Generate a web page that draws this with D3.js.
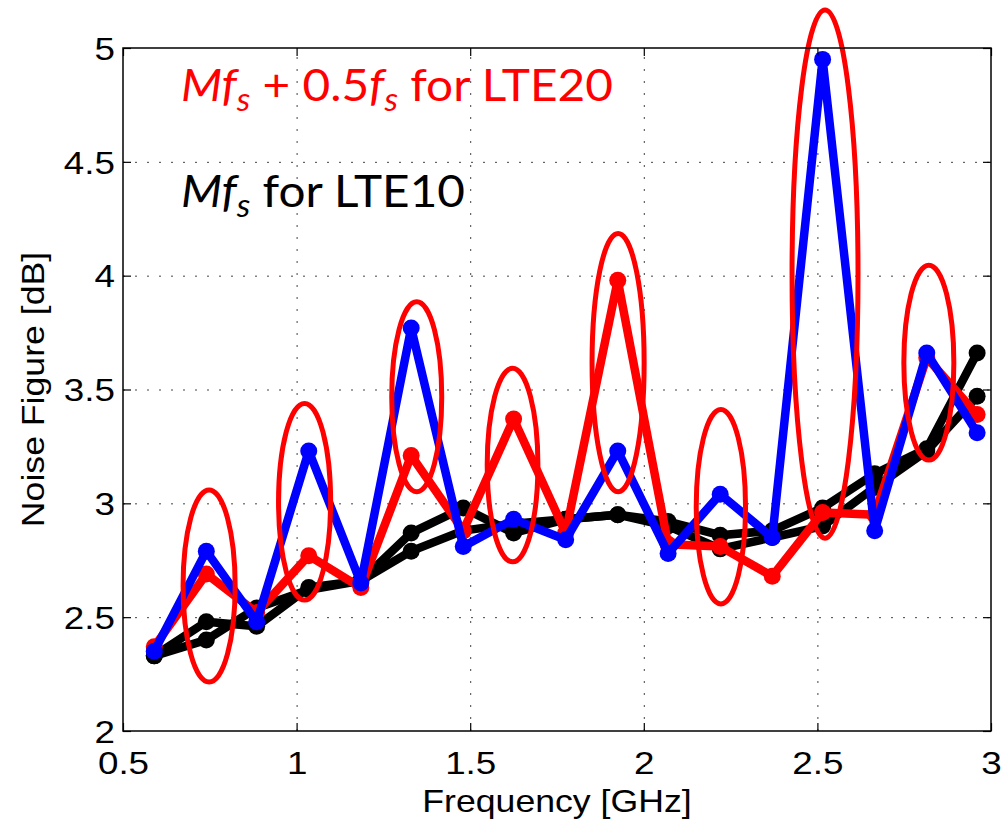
<!DOCTYPE html>
<html>
<head>
<meta charset="utf-8">
<script src="https://cdn.jsdelivr.net/npm/d3@7"></script>
<style>
  body { margin: 0; background: #fff; }
</style>
</head>
<body>
<div id="chart"></div>
<script>
const WIDTH = 1001,
    HEIGHT = 820,
    MARGIN = { TOP: 48, RIGHT: 10, BOTTOM: 89, LEFT: 123 },
    INNER_WIDTH = WIDTH - MARGIN.LEFT - MARGIN.RIGHT,
    INNER_HEIGHT = HEIGHT - MARGIN.TOP - MARGIN.BOTTOM;

// frequency points (GHz)
const freq = [0.59, 0.74, 0.885, 1.035, 1.185, 1.33, 1.48, 1.625, 1.775, 1.925, 2.07, 2.22, 2.37, 2.515, 2.665, 2.815, 2.96];

// noise figure (dB)
const lte10A = [2.33, 2.48, 2.46, 2.63, 2.66, 2.87, 2.98, 2.87, 2.93, 2.95, 2.92, 2.86, 2.88, 2.98, 3.13, 3.24, 3.66];
const lte10B = [2.33, 2.40, 2.54, 2.62, 2.66, 2.79, 2.88, 2.91, 2.93, 2.95, 2.90, 2.80, 2.85, 2.90, 3.07, 3.23, 3.47];
const lte20 = [2.37, 2.69, 2.52, 2.77, 2.63, 3.21, 2.88, 3.37, 2.87, 3.98, 2.82, 2.81, 2.68, 2.96, 2.95, 3.64, 3.39];
const blueSeries = [2.35, 2.79, 2.48, 3.23, 2.65, 3.77, 2.81, 2.93, 2.84, 3.23, 2.78, 3.04, 2.85, 4.95, 2.88, 3.66, 3.31];

// highlight ellipses (center GHz, center dB, half width GHz, half height dB)
const ellipseFreq = [0.748, 1.023, 1.346, 1.622, 1.926, 2.222, 2.522, 2.821];
const ellipseNF = [2.637, 3.007, 3.468, 3.168, 3.618, 2.985, 4.007, 3.618];
const ellipseRx = [0.075, 0.075, 0.072, 0.073, 0.075, 0.071, 0.095, 0.072];
const ellipseRy = [0.422, 0.432, 0.417, 0.425, 0.567, 0.427, 1.16, 0.428];

const xTicks = [0.5, 1, 1.5, 2, 2.5, 3];
const yTicks = [2, 2.5, 3, 3.5, 4, 4.5, 5];

const svg = d3.select("#chart")
    .append("svg")
    .attr("width", WIDTH)
    .attr("height", HEIGHT);

const g = svg.append("g")
    .attr("transform", `translate(${MARGIN.LEFT}, ${MARGIN.TOP})`);

const xScale = d3.scaleLinear().domain([0.5, 3]).range([0, INNER_WIDTH]);
const yScale = d3.scaleLinear().domain([2, 5]).range([INNER_HEIGHT, 0]);

// dotted grid
g.append("g")
    .attr("transform", `translate(0, ${INNER_HEIGHT})`)
    .call(d3.axisBottom(xScale).tickValues(xTicks.slice(1, -1)).tickSize(-INNER_HEIGHT).tickFormat(""))
    .call(a => a.select(".domain").remove())
    .selectAll("line")
    .attr("stroke", "#444")
    .attr("stroke-dasharray", "2,10");

g.append("g")
    .call(d3.axisLeft(yScale).tickValues(yTicks.slice(1, -1)).tickSize(-INNER_WIDTH).tickFormat(""))
    .call(a => a.select(".domain").remove())
    .selectAll("line")
    .attr("stroke", "#444")
    .attr("stroke-dasharray", "2,10");

// lines + markers
const line = d3.line()
    .x((d, i) => xScale(freq[i]))
    .y(d => yScale(d));

const seriesList = [
    { values: lte10A, color: "#000000" },
    { values: lte10B, color: "#000000" },
    { values: lte20, color: "#ff0000" },
    { values: blueSeries, color: "#0000ff" }
];

seriesList.forEach(s => {
    g.append("path")
        .datum(s.values)
        .attr("fill", "none")
        .attr("stroke", s.color)
        .attr("stroke-width", 8.5)
        .attr("stroke-linejoin", "round")
        .attr("d", line);

    g.selectAll(null)
        .data(s.values)
        .join("circle")
        .attr("cx", (d, i) => xScale(freq[i]))
        .attr("cy", d => yScale(d))
        .attr("r", 8.5)
        .attr("fill", s.color);
});

// ellipses
g.selectAll(".hl")
    .data(ellipseFreq)
    .join("ellipse")
    .attr("class", "hl")
    .attr("cx", d => xScale(d))
    .attr("cy", (d, i) => yScale(ellipseNF[i]))
    .attr("rx", (d, i) => xScale(d + ellipseRx[i]) - xScale(d))
    .attr("ry", (d, i) => yScale(ellipseNF[i] - ellipseRy[i]) - yScale(ellipseNF[i]))
    .attr("fill", "none")
    .attr("stroke", "#ff0000")
    .attr("stroke-width", 5);

// box
g.append("rect")
    .attr("width", INNER_WIDTH)
    .attr("height", INNER_HEIGHT)
    .attr("fill", "none")
    .attr("stroke", "#000")
    .attr("stroke-width", 1.5);

// axes, ticks inward
const TICK_SX = 1.15;

g.append("g")
    .attr("transform", `translate(0, ${INNER_HEIGHT})`)
    .call(d3.axisBottom(xScale).tickValues(xTicks).tickSize(-8).tickFormat(d3.format("")))
    .call(a => a.select(".domain").remove())
    .call(a => a.selectAll("line").attr("stroke", "#000").attr("stroke-width", 1.2))
    .selectAll("text")
    .attr("y", 43)
    .attr("dy", 0)
    .attr("fill", "#000")
    .attr("transform", `scale(${TICK_SX},1)`)
    .style("font-family", "'Liberation Sans', Arial, sans-serif")
    .style("font-size", "32px");

g.append("g")
    .call(d3.axisLeft(yScale).tickValues(yTicks).tickSize(-8).tickFormat(d3.format("")))
    .call(a => a.select(".domain").remove())
    .call(a => a.selectAll("line").attr("stroke", "#000").attr("stroke-width", 1.2))
    .selectAll("text")
    .attr("x", -8 / TICK_SX)
    .attr("dy", "0.35em")
    .attr("fill", "#000")
    .attr("transform", `scale(${TICK_SX},1)`)
    .style("font-family", "'Liberation Sans', Arial, sans-serif")
    .style("font-size", "32px");

g.append("g")
    .call(d3.axisTop(xScale).tickValues(xTicks).tickSize(-8).tickFormat(""))
    .call(a => a.select(".domain").remove())
    .selectAll("line").attr("stroke", "#000").attr("stroke-width", 1.2);

g.append("g")
    .attr("transform", `translate(${INNER_WIDTH}, 0)`)
    .call(d3.axisRight(yScale).tickValues(yTicks).tickSize(-8).tickFormat(""))
    .call(a => a.select(".domain").remove())
    .selectAll("line").attr("stroke", "#000").attr("stroke-width", 1.2);

// axis titles
svg.append("text")
    .attr("transform", `translate(${MARGIN.LEFT + INNER_WIDTH / 2}, 812) scale(1.15,1)`)
    .attr("text-anchor", "middle")
    .style("font-family", "'Liberation Sans', Arial, sans-serif")
    .style("font-size", "31px")
    .text("Frequency [GHz]");

svg.append("text")
    .attr("transform", `translate(44, ${MARGIN.TOP + INNER_HEIGHT / 2}) rotate(-90) scale(1.15,1)`)
    .attr("text-anchor", "middle")
    .style("font-family", "'Liberation Sans', Arial, sans-serif")
    .style("font-size", "31px")
    .text("Noise Figure [dB]");

// annotation text
function fsLabel(x, y, color, parts, targetWidth) {
    const t = svg.append("text")
        .attr("fill", color)
        .style("font-family", "Lato, 'Open Sans', sans-serif")
        .style("font-size", "45px");
    parts.forEach(p => {
        const ts = t.append("tspan").text(p.text);
        if (p.italic) ts.style("font-style", "italic");
        if (p.sub) ts.attr("dy", 10).style("font-size", "32px");
        if (p.after) ts.attr("dy", -10);
    });
    const w = t.node().getBBox().width;
    t.attr("transform", `translate(${x}, ${y}) scale(${targetWidth / w},1)`);
}

fsLabel(181, 101, "#ff0000", [
    { text: "Mf", italic: true },
    { text: "s", italic: true, sub: true },
    { text: " + 0.5", after: true },
    { text: "f", italic: true },
    { text: "s", italic: true, sub: true },
    { text: " for LTE20", after: true }
], 432);

fsLabel(181, 207, "#000000", [
    { text: "Mf", italic: true },
    { text: "s", italic: true, sub: true },
    { text: " for LTE10", after: true }
], 284);
</script>
</body>
</html>
